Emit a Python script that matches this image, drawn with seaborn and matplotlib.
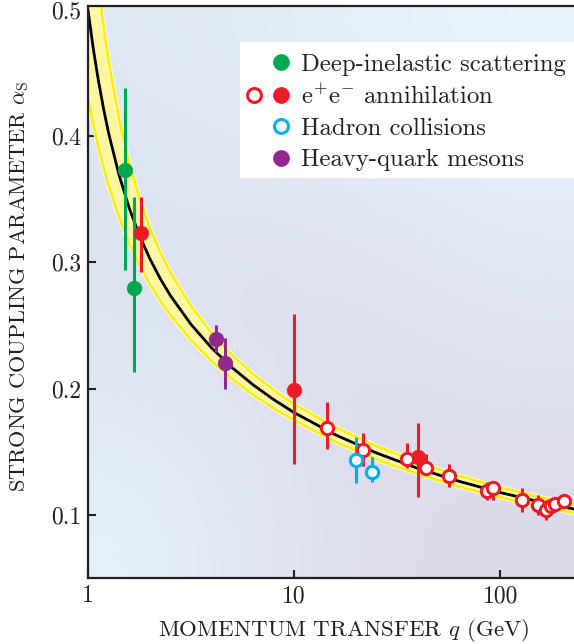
import numpy as np
import matplotlib
matplotlib.use("Agg")
import matplotlib.pyplot as plt
import seaborn as sns
from matplotlib.lines import Line2D
from matplotlib.legend_handler import HandlerTuple
from matplotlib.patches import Rectangle
from matplotlib.colors import to_rgb
from matplotlib.ticker import NullLocator

# Running coupling: central curve and uncertainty band, tabulated in q (GeV)
curve_q = [1.0, 1.059, 1.122, 1.189, 1.259, 1.413, 1.585, 1.778, 1.995, 2.239,
           2.512, 3.162, 3.981, 5.012, 6.310, 7.943, 10.0, 15.85, 25.12, 39.81,
           63.10, 100.0, 158.5, 228.0]
curve_alpha = [0.5000, 0.4700, 0.4443, 0.4219, 0.4023, 0.3694, 0.3430, 0.3212, 0.3029, 0.2872,
               0.2736, 0.2508, 0.2322, 0.2165, 0.2031, 0.1914, 0.1810, 0.1634, 0.1490, 0.1368,
               0.1266, 0.1177, 0.1100, 0.1046]
band_high = [0.606, 0.559, 0.5205, 0.4874, 0.4594, 0.4138, 0.3787, 0.3505, 0.3274, 0.3081,
             0.2918, 0.2652, 0.2440, 0.2265, 0.2116, 0.1988, 0.1876, 0.1693, 0.1544, 0.1417,
             0.1310, 0.1218, 0.1137, 0.1080]
band_low = [0.4306, 0.4100, 0.3918, 0.3755, 0.3611, 0.3361, 0.3155, 0.2980, 0.2830, 0.2699,
            0.2583, 0.2384, 0.2218, 0.2076, 0.1953, 0.1845, 0.1749, 0.1579, 0.1439, 0.1323,
            0.1224, 0.1139, 0.1065, 0.1015]

# Deep-inelastic scattering
dis_q = [1.51, 1.67]
dis_alpha = [0.373, 0.280]
dis_low = [0.294, 0.213]
dis_high = [0.438, 0.352]

# e+e- annihilation, filled symbols
ee_fill_q = [1.81, 10.0, 40.1]
ee_fill_alpha = [0.323, 0.199, 0.146]
ee_fill_low = [0.292, 0.1405, 0.1144]
ee_fill_high = [0.352, 0.259, 0.173]

# e+e- annihilation, open symbols
ee_open_q = [14.5, 21.7, 35.1, 43.8, 56.6, 86.5, 92.5, 128.0, 153.0, 167.0, 177.0, 185.0, 204.0]
ee_open_alpha = [0.169, 0.151, 0.1445, 0.137, 0.131, 0.119, 0.121, 0.112, 0.108, 0.104, 0.107, 0.109, 0.111]
ee_open_low = [0.152, 0.139, 0.137, 0.133, 0.122, 0.112, 0.112, 0.102, 0.100, 0.096, 0.101, 0.104, 0.107]
ee_open_high = [0.189, 0.165, 0.157, 0.148, 0.140, 0.126, 0.126, 0.121, 0.116, 0.112, 0.113, 0.114, 0.115]

# Hadron collisions
had_q = [19.9, 24.0]
had_alpha = [0.1437, 0.134]
had_low = [0.1255, 0.126]
had_high = [0.162, 0.146]

# Heavy-quark mesons
hq_q = [4.17, 4.61]
hq_alpha = [0.2395, 0.2205]
hq_low = [0.229, 0.200]
hq_high = [0.2506, 0.240]

x_ticks = [1, 10, 100]
x_tick_labels = ["1", "10", "100"]
y_ticks = [0.1, 0.2, 0.3, 0.4, 0.5]
y_tick_labels = ["0.1", "0.2", "0.3", "0.4", "0.5"]

legend_labels = ["Deep-inelastic scattering", "e$^{+}$e$^{-}$ annihilation",
                 "Hadron collisions", "Heavy-quark mesons"]

GREEN = "#00a651"
RED = "#ed1c24"
CYAN = "#00aeef"
PURPLE = "#92278f"
BAND_FILL = "#fff6a0"
BAND_EDGE = "#fff000"
INK = "#231f20"

sns.set_theme(style="ticks")
plt.rcParams.update({
    "font.family": ["cmr10", "DejaVu Serif"],
    "mathtext.fontset": "cm",
    "axes.unicode_minus": False,
    "axes.formatter.use_mathtext": True,
})

fig = plt.figure(figsize=(5.74, 6.44), dpi=100)
ax = fig.add_axes([88 / 574, 66 / 644, 486 / 574, 572 / 644])
ax.set_xscale("log")
ax.set_xlim(1, 228)
ax.set_ylim(0.05, 0.503)

# soft two-dimensional background wash
grid_colors = [
    ["#dfe9f5", "#e4eff9", "#e9f5fc"],
    ["#dcdfee", "#dcdcec", "#e0e6f3"],
    ["#e4f1fb", "#dedded", "#dcdaea"],
]
bg = np.array([[to_rgb(c) for c in row] for row in grid_colors])
ax.imshow(bg, extent=[0, 1, 0, 1], transform=ax.transAxes, aspect="auto",
          interpolation="bicubic", zorder=0)

# uncertainty band
ax.fill_between(curve_q, band_low, band_high, color=BAND_FILL, lw=0, zorder=1)
for edge in (band_low, band_high):
    ax.plot(curve_q, edge, color="white", lw=3.4, alpha=0.7, zorder=1.2)
    ax.plot(curve_q, edge, color=BAND_EDGE, lw=2.0, zorder=1.4)

# central curve
sns.lineplot(x=curve_q, y=curve_alpha, color="black", lw=2.0, ax=ax, zorder=2,
             sort=False, estimator=None)

groups = [
    (dis_q, dis_alpha, dis_low, dis_high, GREEN, True),
    (ee_fill_q, ee_fill_alpha, ee_fill_low, ee_fill_high, RED, True),
    (hq_q, hq_alpha, hq_low, hq_high, PURPLE, True),
    (ee_open_q, ee_open_alpha, ee_open_low, ee_open_high, RED, False),
    (had_q, had_alpha, had_low, had_high, CYAN, False),
]
for q, a, lo, hi, col, filled in groups:
    a = np.asarray(a)
    yerr = [a - np.asarray(lo), np.asarray(hi) - a]
    ax.errorbar(q, a, yerr=yerr, fmt="none", ecolor=col, elinewidth=2.2,
                capsize=0, zorder=3)
for q, a, lo, hi, col, filled in groups:
    if filled:
        sns.scatterplot(x=q, y=a, color=col, edgecolor=col, linewidth=0.5,
                        s=110, ax=ax, zorder=5)
    else:
        sns.scatterplot(x=q, y=a, color="white", edgecolor=col, linewidth=2.2,
                        s=78, ax=ax, zorder=6)

# axes styling
ax.set_xticks(x_ticks, labels=x_tick_labels)
ax.xaxis.set_minor_locator(NullLocator())
ax.set_yticks(y_ticks, labels=y_tick_labels)
ax.tick_params(direction="in", length=6, width=1.5, labelsize=17, pad=5,
               colors=INK, labelcolor=INK)
for side in ("left", "bottom", "top"):
    ax.spines[side].set_linewidth(1.6)
    ax.spines[side].set_color(INK)
ax.spines["right"].set_visible(False)

ax.set_xlabel("MOMENTUM TRANSFER $q$ (GeV)", fontsize=16.5, color=INK)
ax.set_ylabel("STRONG COUPLING PARAMETER $\\alpha_{\\rm S}$", fontsize=16, color=INK)
ax.xaxis.set_label_coords(0.525, -0.068)
ax.yaxis.set_label_coords(-0.118, 0.51)

# legend on a white panel
ax.add_patch(Rectangle((0.313, 0.699), 0.7, 0.238, transform=ax.transAxes,
                       facecolor="white", edgecolor="none", zorder=7, clip_on=False))
blank = Line2D([], [], linestyle="none", marker=None)


def dot(col, filled):
    if filled:
        return Line2D([], [], linestyle="none", marker="o", ms=11.5, mfc=col, mec=col, mew=0.5)
    return Line2D([], [], linestyle="none", marker="o", ms=10, mfc="white", mec=col, mew=2.2)


handles = [
    (blank, dot(GREEN, True)),
    (dot(RED, False), dot(RED, True)),
    (blank, dot(CYAN, False)),
    (blank, dot(PURPLE, True)),
]
leg = ax.legend(handles=handles, labels=legend_labels,
                handler_map={tuple: HandlerTuple(ndivide=None, pad=0)},
                loc="upper left", bbox_to_anchor=(0.313, 0.917), frameon=False,
                fontsize=17.8, handlelength=2.2, handletextpad=0.28,
                labelspacing=0.36, borderpad=0, borderaxespad=0)
leg.set_zorder(8)
for t in leg.get_texts():
    t.set_color(INK)

fig.savefig("out.png", dpi=100)
